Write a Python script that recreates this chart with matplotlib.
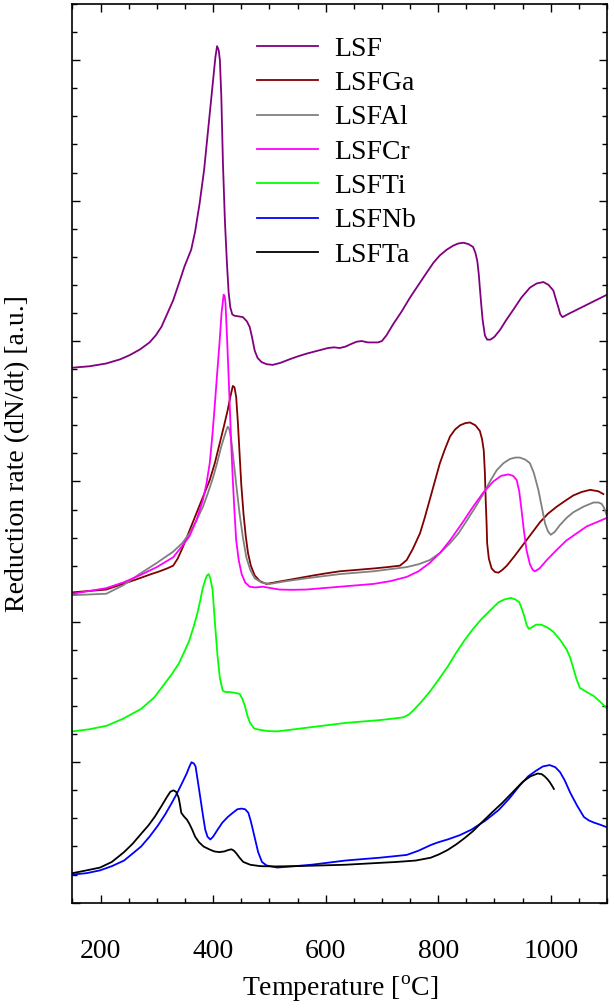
import matplotlib
matplotlib.use('Agg')
import matplotlib.pyplot as plt
from matplotlib.ticker import MultipleLocator

plt.rcParams['font.family'] = ['Liberation Serif', 'DejaVu Serif']
plt.rcParams['mathtext.fontset'] = 'custom'
plt.rcParams['mathtext.rm'] = 'Liberation Serif'

# temperature [C] and reduction rate [a.u.], curves are offset vertically
lsf_t = [150, 180, 210, 235, 252, 270, 287, 298, 308, 318, 329, 340, 349, 356, 361, 368, 376, 384, 391, 396,
         400, 404, 407, 410, 412, 414.5, 417.5, 421, 424.6, 427.5, 430.5, 434, 438, 446, 453, 460, 465, 469,
         474, 479, 486, 495, 506, 520, 536, 550, 566, 585, 604, 615, 625, 635, 646, 655, 664, 675, 685, 693,
         700, 708, 720, 735, 750, 765, 780, 792, 803, 815, 827, 836, 845, 854, 862, 866, 869.5, 872, 874,
         876.5, 879, 883, 887, 893, 900, 910, 921, 933, 948, 963, 975, 987, 996, 1004.6, 1009, 1013.5, 1017,
         1021, 1030, 1040, 1055, 1070, 1085, 1100]
lsf_y = [3.81, 3.82, 3.84, 3.87, 3.90, 3.94, 3.99, 4.04, 4.10, 4.19, 4.29, 4.42, 4.53, 4.60, 4.65, 4.78, 4.98, 5.22, 5.50, 5.70,
         5.86, 6.02, 6.10, 6.07, 6.00, 5.75, 5.26, 4.85, 4.55, 4.35, 4.24, 4.19, 4.18, 4.175, 4.17, 4.14, 4.10, 4.03,
         3.93, 3.88, 3.85, 3.835, 3.83, 3.845, 3.87, 3.89, 3.91, 3.93, 3.95, 3.955, 3.95, 3.96, 3.98, 3.995, 4.00, 3.99, 3.99, 3.99,
         4.00, 4.04, 4.12, 4.21, 4.31, 4.40, 4.49, 4.56, 4.61, 4.65, 4.68, 4.695, 4.70, 4.69, 4.67, 4.63, 4.57, 4.48, 4.38,
         4.26, 4.15, 4.04, 4.01, 4.01, 4.03, 4.08, 4.15, 4.22, 4.31, 4.38, 4.41, 4.42, 4.40, 4.36, 4.30, 4.24, 4.19,
         4.17, 4.19, 4.21, 4.24, 4.27, 4.30, 4.33]

ga_t = [150, 180, 210, 240, 269, 290, 305, 318, 329, 337, 346, 358, 370, 382, 394, 403, 411.6, 419, 426, 431,
        435, 438, 441, 444, 447, 450, 454, 458, 462, 467, 474, 483, 494.5, 515, 536, 557, 577.5, 600, 625, 655,
        685, 710, 732, 744, 755, 767.6, 776, 785, 794, 803, 812, 821, 830, 839, 848, 856.5, 866, 874, 878, 881,
        883, 884.4, 886, 887, 890, 895, 901, 907, 914, 922, 936, 951, 966, 981, 995, 1010.6, 1025, 1040, 1055,
        1070, 1084.6, 1093.5]
ga_y = [2.21, 2.22, 2.23, 2.27, 2.31, 2.34, 2.36, 2.38, 2.40, 2.45, 2.53, 2.65, 2.77, 2.89, 3.01, 3.13, 3.27, 3.39, 3.51, 3.61,
        3.68, 3.67, 3.60, 3.42, 3.20, 2.98, 2.77, 2.61, 2.49, 2.40, 2.33, 2.29, 2.27, 2.285, 2.30, 2.315, 2.33, 2.345, 2.36, 2.37,
        2.38, 2.39, 2.40, 2.44, 2.52, 2.63, 2.74, 2.87, 3.00, 3.13, 3.23, 3.32, 3.37, 3.40, 3.415, 3.42, 3.40, 3.36, 3.30, 3.22,
        3.06, 2.87, 2.70, 2.56, 2.45, 2.38, 2.355, 2.35, 2.37, 2.40, 2.47, 2.55, 2.63, 2.71, 2.77, 2.82, 2.86, 2.90, 2.925,
        2.94, 2.93, 2.91]

al_t = [150, 180, 210, 240, 269, 300, 329, 345, 358, 370, 382, 391, 400, 407, 414.5, 420, 424, 426, 429, 432,
        435, 441, 447, 453, 459, 466, 474, 486, 500.5, 530, 565.6, 595, 625, 685, 744, 765, 785, 803, 821, 836,
        850.6, 865, 880, 892, 904, 916, 927.6, 937, 945, 955, 963, 970, 978, 984, 990, 995, 1000, 1007, 1016.5,
        1028, 1040, 1058, 1076, 1085, 1090.6, 1095, 1099.5]
al_y = [2.19, 2.195, 2.20, 2.26, 2.34, 2.42, 2.50, 2.56, 2.63, 2.72, 2.82, 2.92, 3.03, 3.13, 3.25, 3.32, 3.37, 3.39, 3.37, 3.30,
        3.20, 2.98, 2.77, 2.60, 2.46, 2.37, 2.31, 2.28, 2.27, 2.29, 2.31, 2.325, 2.34, 2.36, 2.39, 2.41, 2.44, 2.49, 2.56, 2.63,
        2.72, 2.81, 2.91, 3.00, 3.08, 3.13, 3.16, 3.17, 3.17, 3.155, 3.13, 3.06, 2.94, 2.82, 2.70, 2.645, 2.62, 2.64, 2.69,
        2.74, 2.78, 2.82, 2.85, 2.85, 2.84, 2.81, 2.76]

cr_t = [150, 180, 210, 240, 269, 300, 329, 345, 358, 370, 382, 388, 394, 398.5, 402.7, 407, 411.6, 415, 418.7, 420.5,
        422, 425, 429, 432, 435, 438, 441, 445.5, 450.7, 457, 465, 475, 488.6, 503, 518, 540, 565.6, 595, 625, 655,
        685, 715, 744, 765, 785, 803, 821, 842, 862, 880, 898, 912, 924.6, 933, 939.5, 944, 948, 952, 957, 963,
        968, 972, 980, 993, 1010, 1028, 1046, 1064, 1082, 1099.5]
cr_y = [2.20, 2.22, 2.24, 2.28, 2.33, 2.39, 2.46, 2.54, 2.61, 2.72, 2.87, 2.98, 3.13, 3.32, 3.53, 3.76, 4.00, 4.20, 4.33, 4.32,
        4.27, 4.00, 3.60, 3.28, 3.01, 2.78, 2.58, 2.44, 2.34, 2.28, 2.25, 2.245, 2.25, 2.24, 2.23, 2.228, 2.23, 2.24, 2.25, 2.26,
        2.27, 2.29, 2.32, 2.36, 2.42, 2.49, 2.58, 2.70, 2.82, 2.92, 3.00, 3.04, 3.05, 3.04, 3.01, 2.93, 2.80, 2.66, 2.51, 2.41,
        2.37, 2.36, 2.38, 2.44, 2.51, 2.58, 2.63, 2.68, 2.71, 2.74]

ti_t = [150, 180, 211, 240, 272, 295, 314, 327, 338.6, 348, 357, 365, 372, 377, 381, 386, 389, 392, 395, 397,
        399, 402, 405, 408, 412, 417, 422, 429, 438, 444, 447.5, 452, 456.6, 461, 465.7, 473, 484, 498, 514, 545,
        574.6, 605, 635, 665, 695.6, 718, 738, 748, 756, 770, 786.5, 801, 816.7, 832, 847, 862, 877, 892, 907.5,
        918, 929, 937, 944, 948, 953, 957, 961, 966, 974, 983, 994, 1004.5, 1017, 1028.7, 1035, 1040.8, 1046,
        1051.7, 1064, 1077, 1088, 1098]
ti_y = [1.22, 1.235, 1.26, 1.31, 1.38, 1.46, 1.56, 1.63, 1.70, 1.78, 1.86, 1.96, 2.06, 2.15, 2.23, 2.30, 2.33, 2.34, 2.31, 2.27,
        2.23, 2.06, 1.90, 1.75, 1.60, 1.51, 1.50, 1.50, 1.495, 1.49, 1.485, 1.45, 1.40, 1.33, 1.28, 1.24, 1.23, 1.222, 1.22, 1.235,
        1.25, 1.265, 1.28, 1.29, 1.30, 1.31, 1.32, 1.34, 1.37, 1.43, 1.51, 1.59, 1.68, 1.78, 1.87, 1.95, 2.02, 2.08, 2.14,
        2.16, 2.17, 2.16, 2.14, 2.10, 2.04, 1.98, 1.95, 1.96, 1.98, 1.98, 1.96, 1.93, 1.87, 1.80, 1.74, 1.66, 1.59,
        1.53, 1.50, 1.47, 1.43, 1.39]

nb_t = [150, 175, 199, 220, 241.7, 257, 272, 287, 302, 315, 326.5, 336, 344.6, 353, 358, 361.5, 364, 366, 368.8, 373,
        377.9, 382, 386, 390, 395, 400, 408, 416.4, 426, 435, 443, 450.5, 457, 462.6, 467, 470, 474.7, 480, 486.8, 495,
        514, 545, 574.6, 605, 635, 665, 695.6, 720, 744, 765, 786.5, 800, 816.7, 838, 859, 884, 907.5, 926, 944, 960,
        974, 986, 998, 1008, 1016.5, 1025, 1035, 1047, 1059, 1068, 1077, 1088, 1098]
nb_y = [0.20, 0.21, 0.23, 0.26, 0.30, 0.35, 0.40, 0.47, 0.55, 0.63, 0.71, 0.78, 0.85, 0.92, 0.97, 1.00, 0.995, 0.99, 0.97, 0.86,
        0.73, 0.62, 0.52, 0.47, 0.45, 0.47, 0.52, 0.57, 0.61, 0.64, 0.665, 0.67, 0.665, 0.64, 0.58, 0.53, 0.45, 0.36, 0.29, 0.265,
        0.25, 0.26, 0.27, 0.285, 0.30, 0.31, 0.32, 0.33, 0.34, 0.37, 0.41, 0.43, 0.45, 0.48, 0.52, 0.585, 0.66, 0.74, 0.83, 0.90,
        0.94, 0.97, 0.98, 0.965, 0.93, 0.87, 0.78, 0.69, 0.61, 0.585, 0.57, 0.555, 0.54]

ta_t = [150, 175, 199, 220, 241.7, 257, 272, 285, 296, 307, 317.5, 324, 329.5, 334, 338.6, 341, 343.4, 348, 353.7, 358,
        362.8, 368, 375, 383, 393, 402, 411, 420, 427, 432.5, 437, 441.5, 447, 453.6, 466, 484, 510, 544.5, 590, 635,
        680, 726, 760, 786.5, 802, 816.7, 832, 847, 862, 877, 895, 913.7, 932, 950, 964, 977, 984, 989, 994, 998,
        1002, 1005.6]
ta_y = [0.21, 0.23, 0.25, 0.29, 0.36, 0.42, 0.49, 0.55, 0.61, 0.68, 0.75, 0.79, 0.80, 0.79, 0.75, 0.70, 0.64, 0.615, 0.59, 0.56,
        0.52, 0.47, 0.43, 0.40, 0.38, 0.365, 0.36, 0.365, 0.375, 0.38, 0.37, 0.35, 0.32, 0.29, 0.27, 0.26, 0.258, 0.26, 0.265, 0.27,
        0.28, 0.29, 0.30, 0.32, 0.345, 0.375, 0.415, 0.46, 0.51, 0.57, 0.64, 0.71, 0.785, 0.86, 0.90, 0.92, 0.915, 0.90, 0.88, 0.86,
        0.835, 0.81]

names = ['LSF', 'LSFGa', 'LSFAl', 'LSFCr', 'LSFTi', 'LSFNb', 'LSFTa']
colors = ['#800080', '#800000', '#808080', '#ff00ff', '#00ff00', '#0000ff', '#000000']
curves = [(lsf_t, lsf_y), (ga_t, ga_y), (al_t, al_y), (cr_t, cr_y), (ti_t, ti_y), (nb_t, nb_y), (ta_t, ta_y)]

fig = plt.figure(figsize=(6.14, 10.08), dpi=100)
ax = fig.add_axes([0.118, 0.1045, 0.8706, 0.8915])

for (t, y), name, c in zip(curves, names, colors):
    ax.plot(t, y, color=c, lw=1.3, label=name)

ax.set_xlim(150, 1100)
ax.set_ylim(0, 6.4)
ax.xaxis.set_major_locator(MultipleLocator(200))
ax.xaxis.set_minor_locator(MultipleLocator(50))
ax.yaxis.set_major_locator(MultipleLocator(1))
ax.yaxis.set_minor_locator(MultipleLocator(0.2))
ax.tick_params(which='both', direction='in', top=True, right=True, labelsize=20, width=1)
ax.tick_params(which='major', length=6)
ax.tick_params(which='minor', length=3.5)
ax.tick_params(axis='y', labelleft=False)
ax.tick_params(axis='x', pad=26)
for s in ax.spines.values():
    s.set_linewidth(1.2)

ax.set_xlabel(r'Temperature [$^{\rm o}$C]', fontsize=20, labelpad=7)
ax.set_ylabel('Reduction rate (dN/dt) [a.u.]', fontsize=20)
ax.yaxis.set_label_coords(-0.08, 0.5)

ax.legend(loc='upper left', bbox_to_anchor=(0.345, 0.964), frameon=False, fontsize=20,
          handlelength=2.2, handletextpad=0.6, labelspacing=0.32, borderpad=0, borderaxespad=0)

fig.savefig('out.png', dpi=100)
